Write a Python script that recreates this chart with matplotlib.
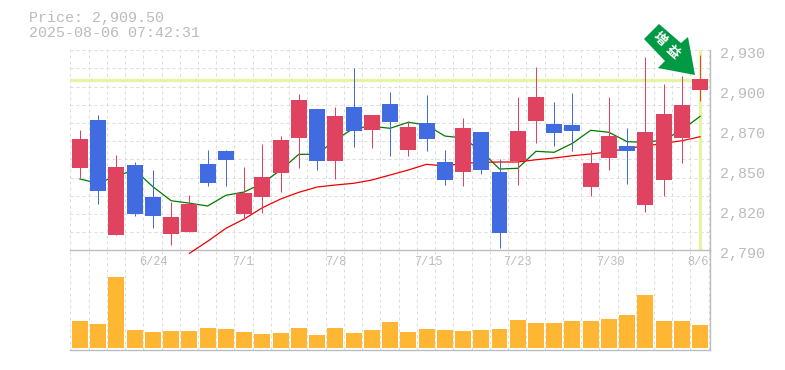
import numpy as np
import matplotlib
matplotlib.use('Agg')
import matplotlib.pyplot as plt
from matplotlib.patches import Polygon

# prices per day, 6/18 .. 8/6
opens = [2847.6, 2881.2, 2800.7, 2849.7, 2827.3, 2801.4, 2802.8, 2850.4, 2859.5, 2815.4,
         2827.3, 2844.1, 2868.6, 2888.9, 2852.5, 2890.3, 2874.2, 2892.4, 2860.2, 2879.1,
         2851.8, 2844.8, 2872.8, 2844.8, 2852.5, 2880.5, 2878.4, 2877.7, 2834.3, 2854.6,
         2863.0, 2821.7, 2839.2, 2868.6, 2902.2]
closes = [2867.9, 2831.5, 2848.3, 2815.4, 2814.0, 2813.3, 2822.4, 2837.1, 2853.2, 2830.1,
          2841.3, 2867.2, 2895.2, 2852.5, 2884.0, 2873.5, 2884.7, 2879.8, 2876.3, 2867.9,
          2839.2, 2875.6, 2846.2, 2802.1, 2873.5, 2897.3, 2872.1, 2873.5, 2851.1, 2870.0,
          2859.5, 2872.8, 2885.4, 2891.7, 2909.9]
highs = [2874.2, 2884.7, 2856.7, 2851.8, 2846.2, 2823.8, 2828.7, 2860.2, 2860.2, 2848.3,
         2864.4, 2870.0, 2899.4, 2888.9, 2890.3, 2917.6, 2884.7, 2900.8, 2880.5, 2898.7,
         2860.2, 2882.6, 2872.8, 2853.9, 2897.3, 2918.3, 2893.8, 2900.1, 2860.2, 2897.3,
         2875.6, 2925.3, 2906.4, 2912.2, 2926.7]
lows = [2840.6, 2822.4, 2800.7, 2814.0, 2805.6, 2793.7, 2802.8, 2835.0, 2835.0, 2811.9,
        2816.1, 2830.8, 2847.6, 2846.2, 2839.9, 2862.3, 2861.6, 2856.0, 2856.0, 2859.5,
        2835.7, 2835.0, 2843.4, 2791.6, 2835.7, 2865.1, 2863.0, 2859.5, 2828.0, 2846.2,
        2836.4, 2816.8, 2828.0, 2851.1, 2894.5]
ma_short = [2839.9, 2836.9, 2842.0, 2846.2, 2834.5, 2824.7, 2823.0, 2821.0, 2828.5, 2830.8,
            2836.9, 2846.2, 2857.2, 2857.2, 2867.2, 2875.4, 2876.8, 2875.4, 2879.6, 2877.7,
            2870.0, 2868.6, 2859.5, 2846.9, 2847.4, 2859.3, 2858.6, 2864.9, 2874.0, 2872.6,
            2866.0, 2865.6, 2867.2, 2874.2, 2883.8]
ma_long = [2787.9, 2796.3, 2805.4, 2811.9, 2819.8, 2825.9, 2830.6, 2834.3, 2835.7, 2836.9,
           2839.2, 2842.7, 2846.2, 2850.2, 2849.0, 2850.9, 2851.6, 2851.8, 2851.8, 2853.4,
           2854.6, 2856.2, 2857.4, 2859.0, 2861.4, 2863.0, 2864.9, 2866.7, 2869.5]
volumes = [27, 24, 71, 18, 16, 17, 17, 20, 19, 16, 14, 15, 20, 13, 20, 15, 18, 26,
           16, 19, 18, 17, 18, 19, 28, 25, 25, 27, 27, 29, 33, 53, 27, 27, 23]
date_pos = [4, 8.9, 14, 19.1, 24, 29.05, 33.9]
date_labels = ['6/24', '7/1', '7/8', '7/15', '7/23', '7/30', '8/6']
price_ticks = [2930, 2902, 2874, 2846, 2818, 2790]
price_labels = ['2,930', '2,900', '2,870', '2,850', '2,820', '2,790']
last_price = 2909.5
title_lines = ['Price: 2,909.50', '2025-08-06 07:42:31']
badge_chars = ['増', '益']

UP = '#e0435f'
DOWN = '#416be0'
GRID = '#dcdcdc'
AXIS = '#bdbdbd'
TEXT = '#bbbbbb'
MARK = '#e3f5a2'
FONT = 'Liberation Mono'
W, H = 785, 370
PX = 0.72  # one pixel in points

fig = plt.figure(figsize=(W/100, H/100), dpi=100)
ax = fig.add_axes([70.3/W, 1-250.3/H, (710-70.3)/W, 200/H])
vax = fig.add_axes([70.3/W, 1-350/H, (710-70.3)/W, 99.7/H])

xs = np.arange(len(opens))
xlim = (-0.53, 34.54)
grid_x = np.arange(xlim[0], xlim[1], 1.0)

for a in (ax, vax):
    a.set_xlim(*xlim)
    a.vlines(grid_x, 0, 1, transform=a.get_xaxis_transform(), color=GRID,
             lw=PX, linestyles=(0, (3, 3)), zorder=1, clip_on=False)
    a.tick_params(left=False, bottom=False, right=False, labelleft=False, labelbottom=False)
    a.patch.set_alpha(0)
    for s in ('left', 'top'):
        a.spines[s].set_visible(False)
    a.spines['right'].set_color(AXIS)
    a.spines['right'].set_linewidth(1)
    a.spines['bottom'].set_color(AXIS)
    a.spines['bottom'].set_linewidth(1)

ax.set_ylim(2790, 2930)
for y in np.linspace(2790, 2930, 12)[1:]:
    ax.axhline(y, color=GRID, lw=PX, ls=(0, (3, 3)), zorder=1)

ax.axhline(last_price, color=MARK, lw=2.3, zorder=2)
ax.axvline(xs[-1], color=MARK, lw=2.3, zorder=2)

ax.plot(xs, ma_short, color='#007a00', lw=0.9, zorder=3, clip_on=False)
ax.plot(xs[6:], ma_long, color='#ee0000', lw=0.9, zorder=3, clip_on=False)

for x, o, c, hi, lo in zip(xs, opens, closes, highs, lows):
    col = UP if c >= o else DOWN
    ax.vlines(x, lo, hi, color=col, lw=PX, zorder=4)
    ax.bar(x, abs(c-o), bottom=min(o, c), width=0.875, color=col, zorder=5, lw=0)

for tick, lab in zip(price_ticks, price_labels):
    ax.annotate(lab, xy=(1, tick), xycoords=ax.get_yaxis_transform(), xytext=(7.2, -2.9),
                textcoords='offset points', color=TEXT, fontsize=10.8, fontfamily=FONT,
                va='center', ha='left', annotation_clip=False)

vax.set_ylim(-2, 97.7)
vax.bar(xs, volumes, width=0.875, color='#ffb733', zorder=3, lw=0)
for p, lab in zip(date_pos, date_labels):
    vax.text(p, 86, lab, ha='center', va='center', color=TEXT, fontsize=8.6,
             fontfamily=FONT, zorder=4)

fig.text(29/W, 1-18/H, title_lines[0], color=TEXT, fontsize=10.8, fontfamily=FONT, va='center')
fig.text(29/W, 1-33/H, title_lines[1], color=TEXT, fontsize=10.8, fontfamily=FONT, va='center')

# badge arrow, in figure pixels
arrow = np.array([[659, 24], [681, 43], [688, 37], [695, 75], [658, 68], [665, 61], [644, 39]], float)
arrow[:, 1] = H - arrow[:, 1]
fig.add_artist(Polygon(arrow, closed=True, transform=None, fc='#009944', ec='none', zorder=10))
for (px, py), ch in zip([(660, 39), (673, 52)], badge_chars):
    fig.text(px/W, 1-py/H, ch, color='white', fontsize=9.5, rotation=-42, ha='center', va='center',
             fontweight='bold', family=['Noto Sans CJK JP', 'DejaVu Sans'], zorder=11)

fig.savefig('out.png', dpi=100)
